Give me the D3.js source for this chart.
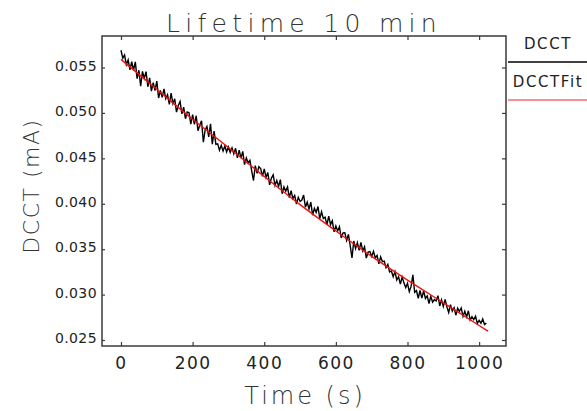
<!DOCTYPE html>
<html>
<head>
<meta charset="utf-8">
<script src="https://cdn.jsdelivr.net/npm/d3@7"></script>
<style>
  body { margin: 0; background: #fff; }
  text { font-family: "DejaVu Sans", sans-serif; }
</style>
</head>
<body>
<div id="chart"></div>
<script>
// measured beam current, sampled every 5 s
const sampleTime = [
  0, 5, 10, 15, 20, 25, 30, 35, 40, 45, 50, 55, 60, 65, 70, 75, 80, 85, 90, 95,
  100, 105, 110, 115, 120, 125, 130, 135, 140, 145, 150, 155, 160, 165, 170, 175, 180, 185, 190, 195,
  200, 205, 210, 215, 220, 225, 230, 235, 240, 245, 250, 255, 260, 265, 270, 275, 280, 285, 290, 295,
  300, 305, 310, 315, 320, 325, 330, 335, 340, 345, 350, 355, 360, 365, 370, 375, 380, 385, 390, 395,
  400, 405, 410, 415, 420, 425, 430, 435, 440, 445, 450, 455, 460, 465, 470, 475, 480, 485, 490, 495,
  500, 505, 510, 515, 520, 525, 530, 535, 540, 545, 550, 555, 560, 565, 570, 575, 580, 585, 590, 595,
  600, 605, 610, 615, 620, 625, 630, 635, 640, 645, 650, 655, 660, 665, 670, 675, 680, 685, 690, 695,
  700, 705, 710, 715, 720, 725, 730, 735, 740, 745, 750, 755, 760, 765, 770, 775, 780, 785, 790, 795,
  800, 805, 810, 815, 820, 825, 830, 835, 840, 845, 850, 855, 860, 865, 870, 875, 880, 885, 890, 895,
  900, 905, 910, 915, 920, 925, 930, 935, 940, 945, 950, 955, 960, 965, 970, 975, 980, 985, 990, 995,
  1000, 1005, 1010, 1015, 1020
];
const dcct = [
  0.05690, 0.05604, 0.05637, 0.05531, 0.05584, 0.05473, 0.05566, 0.05470, 0.05563, 0.05377,
  0.05470, 0.05294, 0.05457, 0.05381, 0.05454, 0.05288, 0.05386, 0.05240, 0.05333, 0.05247,
  0.05350, 0.05164, 0.05247, 0.05171, 0.05264, 0.05158, 0.05201, 0.05095, 0.05218, 0.05102,
  0.05155, 0.05009, 0.05082, 0.05126, 0.04989, 0.05063, 0.04936, 0.05010, 0.05003, 0.04877,
  0.04980, 0.04875, 0.04969, 0.04804, 0.04868, 0.04913, 0.04677, 0.04812, 0.04851, 0.04736,
  0.04880, 0.04655, 0.04799, 0.04654, 0.04660, 0.04590, 0.04645, 0.04580, 0.04635, 0.04570,
  0.04625, 0.04565, 0.04615, 0.04550, 0.04611, 0.04505, 0.04589, 0.04503, 0.04577, 0.04431,
  0.04505, 0.04449, 0.04478, 0.04362, 0.04256, 0.04420, 0.04334, 0.04408, 0.04387, 0.04301,
  0.04385, 0.04290, 0.04344, 0.04209, 0.04283, 0.04318, 0.04202, 0.04257, 0.04191, 0.04266,
  0.04110, 0.04185, 0.04139, 0.04184, 0.04068, 0.04143, 0.04057, 0.04092, 0.03996, 0.04071,
  0.04025, 0.04041, 0.04096, 0.03962, 0.04017, 0.03943, 0.04018, 0.03874, 0.03949, 0.03905,
  0.03970, 0.03836, 0.03911, 0.03837, 0.03852, 0.03768, 0.03863, 0.03769, 0.03814, 0.03690,
  0.03755, 0.03701, 0.03747, 0.03623, 0.03679, 0.03680, 0.03596, 0.03662, 0.03538, 0.03404,
  0.03590, 0.03506, 0.03572, 0.03488, 0.03574, 0.03480, 0.03526, 0.03402, 0.03468, 0.03474,
  0.03420, 0.03477, 0.03404, 0.03431, 0.03338, 0.03415, 0.03362, 0.03369, 0.03296, 0.03333,
  0.03250, 0.03260, 0.03197, 0.03254, 0.03161, 0.03198, 0.03115, 0.03192, 0.03129, 0.03078,
  0.03125, 0.03033, 0.03090, 0.03218, 0.03025, 0.03043, 0.02960, 0.03045, 0.02962, 0.03040,
  0.02957, 0.02985, 0.02902, 0.02980, 0.02917, 0.02945, 0.02930, 0.02988, 0.02875, 0.02943,
  0.02870, 0.02948, 0.02865, 0.02803, 0.02890, 0.02818, 0.02855, 0.02773, 0.02850, 0.02815,
  0.02852, 0.02760, 0.02817, 0.02755, 0.02822, 0.02720, 0.02757, 0.02725, 0.02762, 0.02680,
  0.02717, 0.02685, 0.02732, 0.02670, 0.02687
];

// fitted decay curve
const fitTime = [0, 100, 200, 300, 400, 500, 600, 700, 800, 900, 1000, 1025];
const fitValue = [0.0559, 0.0526, 0.0493, 0.0462, 0.0430, 0.0399, 0.0370, 0.0342, 0.0316, 0.0291, 0.0266, 0.02597];

const xTicks = [0, 200, 400, 600, 800, 1000];
const yTicks = [0.025, 0.030, 0.035, 0.040, 0.045, 0.050, 0.055];
const legendNames = ["DCCT", "DCCTFit"];
const legendColors = ["#000", "#ee2222"];

const width = 587, height = 411;
const plotLeft = 102, plotRight = 506, plotTop = 36, plotBottom = 346;

const svg = d3.select("#chart").append("svg")
  .attr("width", width)
  .attr("height", height);

const x = d3.scaleLinear().domain([-53, 1075]).range([plotLeft, plotRight]);
const y = d3.scaleLinear().domain([0.02434, 0.05847]).range([plotBottom, plotTop]);

// frame
svg.append("rect")
  .attr("x", plotLeft).attr("y", plotTop)
  .attr("width", plotRight - plotLeft).attr("height", plotBottom - plotTop)
  .attr("fill", "none").attr("stroke", "#3a3a3a").attr("stroke-width", 1.5);

function styleAxis(g) {
  g.select(".domain").remove();
  g.selectAll(".tick line").attr("stroke", "#3a3a3a").attr("stroke-width", 1.2);
  g.selectAll(".tick text").attr("fill", "#222").attr("font-family", "DejaVu Sans, sans-serif");
}

svg.append("g")
  .attr("transform", `translate(0,${plotBottom})`)
  .call(d3.axisBottom(x).tickValues(xTicks).tickSizeInner(-4).tickSizeOuter(0).tickPadding(11).tickFormat(d3.format("d")))
  .call(styleAxis)
  .call(g => g.selectAll(".tick text").attr("font-size", 17).attr("letter-spacing", 1.5));

svg.append("g")
  .attr("transform", `translate(0,${plotTop})`)
  .call(d3.axisTop(x).tickValues(xTicks).tickSizeInner(-4).tickSizeOuter(0).tickFormat(""))
  .call(styleAxis);

svg.append("g")
  .attr("transform", `translate(${plotLeft},0)`)
  .call(d3.axisLeft(y).tickValues(yTicks).tickSizeInner(-3).tickSizeOuter(0).tickPadding(5).tickFormat(d3.format(".3f")))
  .call(styleAxis)
  .call(g => g.selectAll(".tick text").attr("font-size", 14).attr("letter-spacing", 0.4).attr("dy", "0.2em"));

svg.append("g")
  .attr("transform", `translate(${plotRight},0)`)
  .call(d3.axisRight(y).tickValues(yTicks).tickSizeInner(-4).tickSizeOuter(0).tickFormat(""))
  .call(styleAxis);

// data
svg.append("clipPath").attr("id", "plotclip")
  .append("rect").attr("x", plotLeft).attr("y", plotTop)
  .attr("width", plotRight - plotLeft).attr("height", plotBottom - plotTop);

const line = d3.line()
  .x(d => x(d[0]))
  .y(d => y(d[1]));

svg.append("path")
  .datum(sampleTime.map((t, i) => [t, dcct[i]]))
  .attr("clip-path", "url(#plotclip)")
  .attr("fill", "none")
  .attr("stroke", "#000")
  .attr("stroke-width", 1.4)
  .attr("d", line);

svg.append("path")
  .datum(fitTime.map((t, i) => [t, fitValue[i]]))
  .attr("clip-path", "url(#plotclip)")
  .attr("fill", "none")
  .attr("stroke", "#ee1111")
  .attr("stroke-width", 1.4)
  .attr("d", line.curve(d3.curveMonotoneX));

// title and axis labels
svg.append("text")
  .attr("x", 304).attr("y", 32)
  .attr("text-anchor", "middle")
  .attr("font-size", 25)
  .attr("font-weight", 200)
  .attr("letter-spacing", 5.3)
  .attr("fill", "#333")
  .text("Lifetime 10 min");

svg.append("text")
  .attr("x", 305).attr("y", 404)
  .attr("text-anchor", "middle")
  .attr("font-size", 24)
  .attr("font-weight", 200)
  .attr("letter-spacing", 3)
  .attr("fill", "#333")
  .text("Time (s)");

svg.append("text")
  .attr("transform", "translate(39,186) rotate(-90)")
  .attr("text-anchor", "middle")
  .attr("font-size", 22)
  .attr("font-weight", 200)
  .attr("letter-spacing", 1.5)
  .attr("fill", "#333")
  .text("DCCT (mA)");

// legend
const legend = svg.append("g");
legendNames.forEach((name, i) => {
  const ly = 49 + i * 38;
  legend.append("text")
    .attr("x", 548).attr("y", ly)
    .attr("text-anchor", "middle")
    .attr("font-size", 15)
    .attr("letter-spacing", 1.6)
    .attr("fill", "#222")
    .text(name);
  legend.append("line")
    .attr("x1", 508).attr("x2", 587)
    .attr("y1", ly + 13).attr("y2", ly + 13)
    .attr("stroke", legendColors[i])
    .attr("stroke-width", i == 0 ? 1.5 : 1.2);
});
</script>
</body>
</html>
